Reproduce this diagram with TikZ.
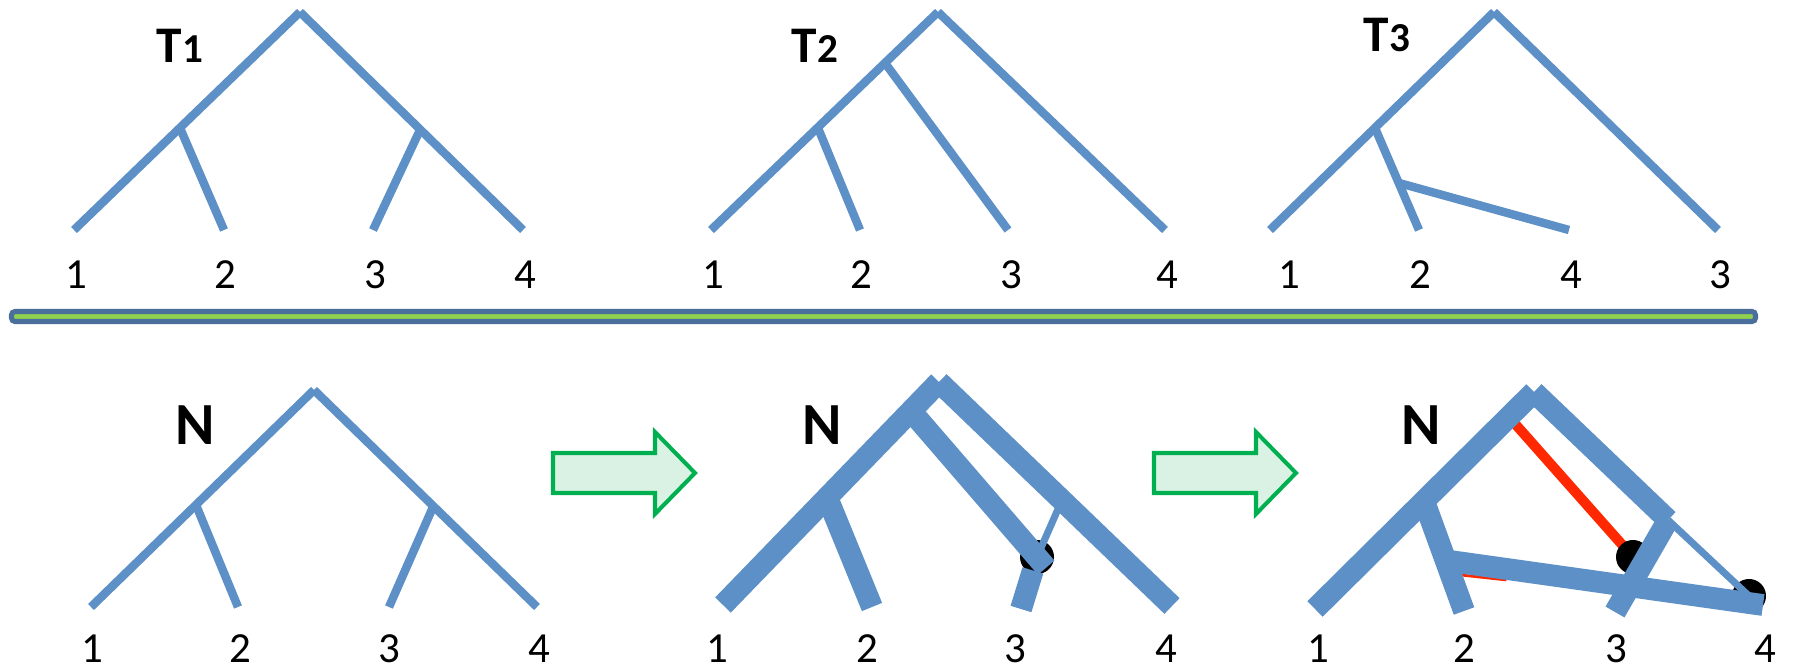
\documentclass[tikz,border=0pt]{standalone}
\usepackage{fontspec}
\setmainfont{Carlito}
\usepackage{tikz}
\usetikzlibrary{calc}
\definecolor{blue1}{RGB}{92,144,198}
\definecolor{green1}{RGB}{0,176,80}
\definecolor{mint1}{RGB}{218,242,228}
\definecolor{bar1}{RGB}{74,111,156}
\definecolor{lime1}{RGB}{146,208,80}
\definecolor{red1}{RGB}{255,40,0}

\begin{document}
\begin{tikzpicture}[x=0.01cm, y=-0.01cm,
    edge/.style={blue1, line width=2.4pt},
    fatedge/.style={blue1, line width=6.2pt},
    hybedge/.style={blue1, line width=2pt},
    rededge/.style={red1, line width=2.85pt},
    hybnode/.style={circle, fill=black, minimum size=0.34cm, inner sep=0pt},
    leaflabel/.style={inner sep=0pt, font=\fontsize{12.2}{14}\selectfont},
    treename/.style={inner sep=0pt, anchor=base west, font=\bfseries\fontsize{14.6}{16}\selectfont},
    netname/.style={inner sep=0pt, anchor=base, font=\bfseries\fontsize{17}{19}\selectfont},
    bigarrow/.style={draw=green1, fill=mint1, line width=1.15pt}
]
\useasboundingbox (0,0) rectangle (1793,667);

% tree T1
\coordinate (aR) at (300,12);
\coordinate (aA) at (180,128);
\coordinate (aB) at (420,130);
\foreach \x [count=\i] in {74,224,373,523} {
    \coordinate (aL\i) at (\x,230);
}
\draw[edge] (aR) -- (aL1);
\draw[edge] (aR) -- (aL4);
\draw[edge] (aA) -- (aL2);
\draw[edge] (aB) -- (aL3);
\node[treename] (nameT1) at (156,63) {T{\fontsize{11.7}{12}\selectfont 1}};

% tree T2
\coordinate (tR) at (938,12);
\coordinate (tA) at (818,128);
\coordinate (tC) at (885,63);
\foreach \x [count=\i] in {711,860,1008,1165} {
    \coordinate (tL\i) at (\x,230);
}
\draw[edge] (tR) -- (tL1);
\draw[edge] (tR) -- (tL4);
\draw[edge] (tA) -- (tL2);
\draw[edge] (tC) -- (tL3);
\node[treename] (nameT2) at (791,63) {T{\fontsize{11.7}{12}\selectfont 2}};

% tree T3
\coordinate (sR) at (1494,12);
\coordinate (sA) at (1375,128);
\coordinate (sD) at (1399,183);
\foreach \x [count=\i] in {1270,1419,1718,1569} {
    \coordinate (sL\i) at (\x,230);
}
\draw[edge] (sR) -- (sL1);
\draw[edge] (sR) -- (sL3);
\draw[edge] (sA) -- (sL2);
\draw[edge] (sD) -- (sL4);
\node[treename] (nameT3) at (1363,52) {T{\fontsize{11.7}{12}\selectfont 3}};

% leaf labels, top row
\foreach \x/\t [count=\i] in {76/1,225/2,375/3,525/4,713/1,861/2,1011/3,1167/4,1289/1,1420/2,1571/4,1720/3} {
    \node[leaflabel] (top\i) at (\x,275) {\t};
}

% separator
\draw[draw=bar1, fill=lime1, line width=1.45pt, rounded corners=1pt] (11.5,311.5) rectangle (1755.5,321.5);

% network N, plain
\coordinate (nR) at (314,390);
\coordinate (nA) at (196,505);
\coordinate (nB) at (433,507);
\foreach \x [count=\i] in {91,238,389,537} {
    \coordinate (nL\i) at (\x,607);
}
\draw[edge] (nR) -- (nL1);
\draw[edge] (nR) -- (nL4);
\draw[edge] (nA) -- (nL2);
\draw[edge] (nB) -- (nL3);
\node[netname] (nameN1) at (195,445) {N};

% green arrows
\foreach \x/\n in {553/arrowA,1154/arrowB} {
    \coordinate (\n) at (\x,473);
    \draw[bigarrow] (\n) ++(0,-20) -- ++(102,0) -- ++(0,-21) -- ++(40,41)
        -- ++(-40,41) -- ++(0,-21) -- ++(-102,0) -- cycle;
}

% network N, one hybrid
\coordinate (bR) at (939,382);
\coordinate (bA) at (827,497);
\coordinate (bX) at (911,411);
\coordinate (bY) at (1062,500);
\coordinate (bL1) at (723,605);
\coordinate (bL2) at (872,607);
\coordinate (bL3) at (1021,609);
\coordinate (bL4) at (1172,606);
\node[hybnode] (bH) at (1037,557) {};
\draw[hybedge] (bY) -- (bH.center);
\draw[fatedge] (bR) -- (bL1);
\draw[fatedge] (bR) -- (bL4);
\draw[fatedge] (bA) -- (bL2);
\draw[fatedge, shorten >=-4pt] (bX) -- (bH.center);
\draw[fatedge, shorten <=4pt] (bH.center) -- (bL3);
\node[netname] (nameN2) at (822,445) {N};

% network N, two hybrids
\coordinate (cR) at (1534,392);
\coordinate (cA) at (1424,501);
\coordinate (cW) at (1509,417);
\coordinate (cY) at (1668,520);
\coordinate (cZ) at (1450,561);
\coordinate (cHc) at (1633,557);
\coordinate (cL1) at (1315,609);
\coordinate (cL2) at (1464,611);
\coordinate (cL3) at (1615,612);
\coordinate (cL4) at (1763,605);
\draw[rededge] (cW) -- (cHc);
\draw[red1, line width=0.8pt] ($(cZ)+(11,14)$) -- ($(cZ)!0.18!(cL4)+(0,11)$);
\node[hybnode] (cH) at (cHc) {};
\node[hybnode] (cG) at (1749,596) {};
\draw[hybedge, shorten >=-4pt] (cY) -- (cG.center);
\draw[fatedge] (cR) -- (cL1);
\draw[fatedge] (cR) -- (cY);
\draw[fatedge] (cA) -- (cL2);
\draw[fatedge] (cZ) -- (cL4);
\draw[fatedge] (cY) -- (cL3);
\node[netname] (nameN3) at (1421,445) {N};

% leaf labels, bottom row
\foreach \x/\t [count=\i] in {92/1,240/2,389/3,539/4,717/1,867/2,1015/3,1166/4,1318/1,1464/2,1616/3,1765/4} {
    \node[leaflabel] (bot\i) at (\x,649) {\t};
}

\end{tikzpicture}
\end{document}
